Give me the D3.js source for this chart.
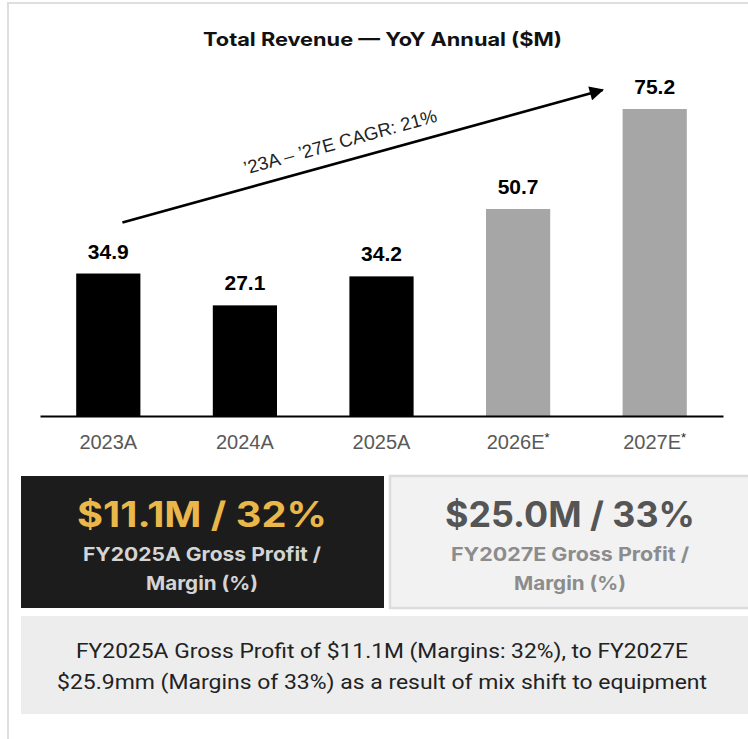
<!DOCTYPE html>
<html>
<head>
<meta charset="utf-8">
<script src="https://cdn.jsdelivr.net/npm/d3@7"></script>
<style>
  body { margin: 0; background: #fff; }
  svg { display: block; }
</style>
</head>
<body>
<div id="chart"></div>
<script>
// revenue data ($M)
var categories = ["2023A", "2024A", "2025A", "2026E", "2027E"];
var revenue = [34.9, 27.1, 34.2, 50.7, 75.2];
var estimate = [false, false, false, true, true];
var cagrLabel = "\u201923A \u2013 \u201927E CAGR: 21%";

// gross profit callouts
var gpValues = ["$11.1M / 32%", "$25.0M / 33%"];
var gpLabels = [["FY2025A Gross Profit /", "Margin (%)"], ["FY2027E Gross Profit /", "Margin (%)"]];
var noteLines = [
    "FY2025A Gross Profit of $11.1M (Margins: 32%), to FY2027E",
    "$25.9mm (Margins of 33%) as a result of mix shift to equipment"
];

var width = 748, height = 739;
var sansFont = "Inter, 'Noto Sans', sans-serif";
var arialFont = "'Liberation Sans', Arial, sans-serif";

var svg = d3.select("#chart").append("svg")
    .attr("width", width)
    .attr("height", height);

// frame (top + left edge)
svg.append("line").attr("x1", 8).attr("x2", width).attr("y1", 3).attr("y2", 3)
    .attr("stroke", "#dedede").attr("stroke-width", 2);
svg.append("line").attr("x1", 8).attr("x2", 8).attr("y1", 2).attr("y2", height)
    .attr("stroke", "#dedede").attr("stroke-width", 2);

svg.append("text")
    .attr("x", 382.5).attr("y", 46)
    .attr("text-anchor", "middle")
    .attr("textLength", 359).attr("lengthAdjust", "spacingAndGlyphs")
    .style("font-family", sansFont)
    .style("font-weight", 700)
    .style("font-size", "18.5px")
    .attr("fill", "#111")
    .text("Total Revenue \u2014 YoY Annual ($M)");

var x = d3.scaleBand()
    .domain(categories)
    .range([40, 723])
    .paddingInner(0.53)
    .paddingOuter(0.265);

var y = d3.scaleLinear()
    .domain([0, 75.2])
    .range([416, 109]);

var data = categories.map(function(c, i) {
    return {cat: c, value: revenue[i], est: estimate[i]};
});

svg.selectAll("rect.bar")
    .data(data)
    .enter().append("rect")
    .attr("class", "bar")
    .attr("x", function(d) { return x(d.cat); })
    .attr("y", function(d) { return y(d.value); })
    .attr("width", x.bandwidth())
    .attr("height", function(d) { return y(0) - y(d.value); })
    .attr("fill", function(d) { return d.est ? "#a6a6a6" : "#000"; });

svg.selectAll("text.val")
    .data(data)
    .enter().append("text")
    .attr("class", "val")
    .attr("x", function(d) { return x(d.cat) + x.bandwidth() / 2; })
    .attr("y", function(d) { return y(d.value) - 15; })
    .attr("text-anchor", "middle")
    .style("font-family", arialFont)
    .style("font-weight", 700)
    .style("font-size", "21px")
    .text(function(d) { return d.value.toFixed(1); });

var xAxis = svg.append("g")
    .attr("transform", "translate(0," + y(0) + ")")
    .call(d3.axisBottom(x).tickSize(0).tickPadding(19).tickFormat(function() { return ""; }));

xAxis.select(".domain").attr("stroke", "#000").attr("stroke-width", 2.2);

xAxis.selectAll(".tick text").each(function(d, i) {
    var t = d3.select(this)
        .style("font-family", arialFont)
        .style("font-size", "20px")
        .attr("fill", "#595959");
    t.append("tspan").text(d);
    if (estimate[i]) {
        t.append("tspan").attr("dy", -7).style("font-size", "13px").attr("fill", "#222").text("*");
    }
});

// CAGR arrow
svg.append("defs").append("marker")
    .attr("id", "head")
    .attr("viewBox", "0 0 10 10")
    .attr("refX", 9).attr("refY", 5)
    .attr("markerWidth", 6.5).attr("markerHeight", 5.5)
    .attr("markerUnits", "strokeWidth")
    .attr("orient", "auto")
    .append("path").attr("d", "M0,0 L10,5 L0,10 Z").attr("fill", "#000");

var ax1 = x("2023A") + x.bandwidth() * 0.72, ay1 = y(revenue[0]) - 51;
var ax2 = x("2027E") - 20, ay2 = y(revenue[4]) - 19;

svg.append("line")
    .attr("x1", ax1).attr("y1", ay1)
    .attr("x2", ax2).attr("y2", ay2)
    .attr("stroke", "#000").attr("stroke-width", 2.6)
    .attr("marker-end", "url(#head)");

var ang = Math.atan2(ay2 - ay1, ax2 - ax1) * 180 / Math.PI;
svg.append("text")
    .attr("transform", "translate(" + 342 + "," + 148 + ") rotate(" + ang + ")")
    .attr("text-anchor", "middle")
    .style("font-family", arialFont)
    .style("font-size", "18.5px")
    .attr("fill", "#222")
    .text(cagrLabel);

// gross profit boxes
var boxes = [
    {x: 21, w: 363, cx: 202, fill: "#1c1c1c", stroke: "none", vcol: "#eab84a", lcol: "#d4d4d4"},
    {x: 390, w: 370, cx: 570, fill: "#f2f2f2", stroke: "#dcdcdc", vcol: "#555555", lcol: "#8c8c8c"}
];
var labelWidths = [238, 112];

boxes.forEach(function(b, i) {
    svg.append("rect")
        .attr("x", b.x).attr("y", 476)
        .attr("width", b.w).attr("height", 132)
        .attr("fill", b.fill)
        .attr("stroke", b.stroke).attr("stroke-width", 2.5);
    svg.append("text")
        .attr("x", b.cx).attr("y", 527)
        .attr("text-anchor", "middle")
        .attr("textLength", 250).attr("lengthAdjust", "spacingAndGlyphs")
        .style("font-family", sansFont)
        .style("font-weight", 700)
        .style("font-size", "35px")
        .attr("fill", b.vcol)
        .text(gpValues[i]);
    gpLabels[i].forEach(function(line, j) {
        svg.append("text")
            .attr("x", b.cx).attr("y", 561 + j * 29)
            .attr("text-anchor", "middle")
            .attr("textLength", labelWidths[j]).attr("lengthAdjust", "spacingAndGlyphs")
            .style("font-family", sansFont)
            .style("font-weight", 700)
            .style("font-size", "19px")
            .attr("fill", b.lcol)
            .text(line);
    });
});

// bottom note
svg.append("rect")
    .attr("x", 21).attr("y", 616)
    .attr("width", width - 21).attr("height", 98)
    .attr("fill", "#ededed");

var noteWidths = [612, 650];
noteLines.forEach(function(line, j) {
    svg.append("text")
        .attr("x", 382).attr("y", 658 + j * 31)
        .attr("text-anchor", "middle")
        .attr("textLength", noteWidths[j]).attr("lengthAdjust", "spacingAndGlyphs")
        .style("font-family", "Roboto, 'Noto Sans', sans-serif")
        .style("font-size", "21px")
        .attr("fill", "#222")
        .text(line);
});
</script>
</body>
</html>
